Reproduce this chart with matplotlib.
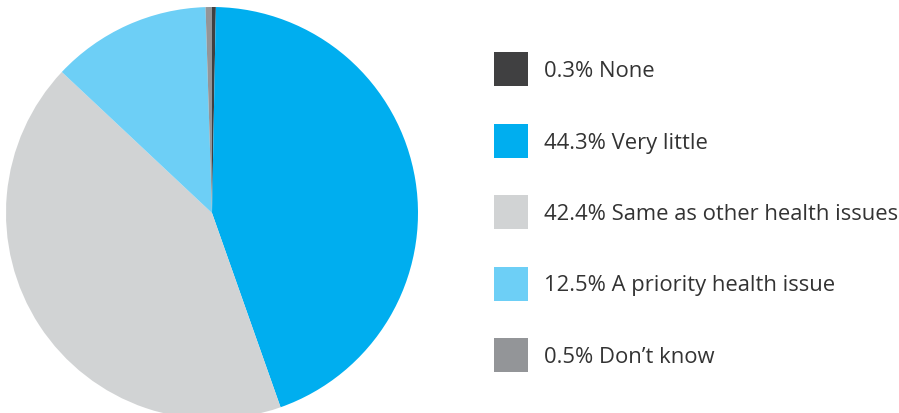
import matplotlib
matplotlib.use("Agg")
import matplotlib.pyplot as plt
from matplotlib.patches import Rectangle

categories = ["None", "Very little", "Same as other health issues", "A priority health issue", "Don\u2019t know"]
values = [0.3, 44.3, 42.4, 12.5, 0.5]
colors = ["#404041", "#00aeef", "#d1d3d4", "#6dcff6", "#939598"]

W, H = 899, 414
fig = plt.figure(figsize=(W / 100, H / 100), dpi=100)
ax = fig.add_axes([0, 0, 1, 1])

ax.pie(values, colors=colors, startangle=90, counterclock=False,
       center=(212, H - 214), radius=206, frame=True,
       wedgeprops=dict(linewidth=0))
ax.set_xlim(0, W)
ax.set_ylim(0, H)
ax.set_aspect("equal")
ax.axis("off")

row0, step = 70, 71.5
for i, (cat, val, col) in enumerate(zip(categories, values, colors)):
    yc = H - (row0 + i * step)
    ax.add_patch(Rectangle((494, yc - 17), 34, 34, facecolor=col, edgecolor="none"))
    ax.text(544, yc - 1.5, f"{val}% {cat}", fontsize=15.8, color="#333333",
            va="center", ha="left", family="Open Sans")

fig.savefig("out.png", dpi=100)
